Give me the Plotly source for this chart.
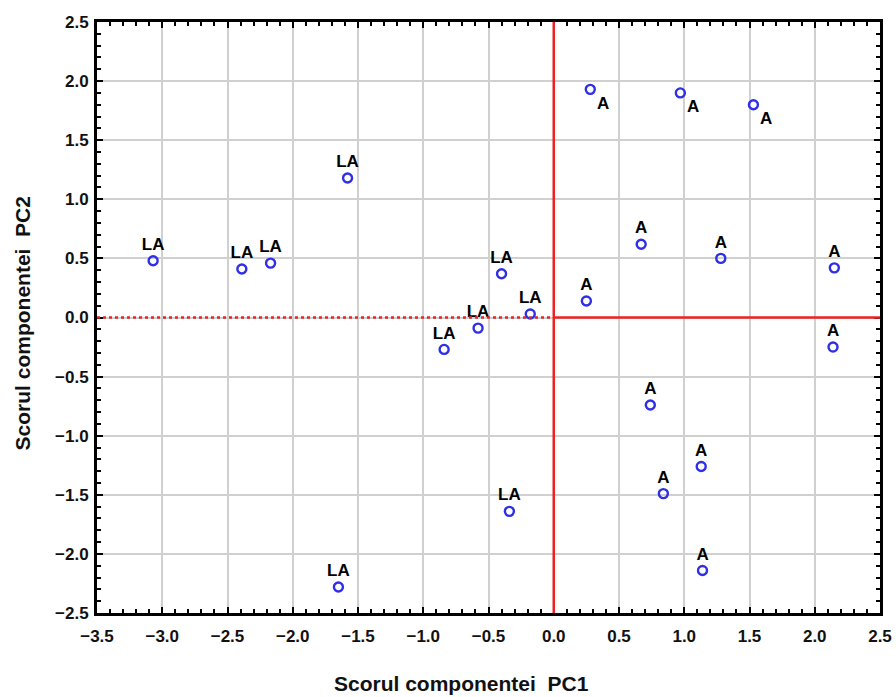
import plotly.graph_objects as go

# Data
la_pc1 = [-3.07, -2.39, -2.17, -1.58, -0.40, -0.18, -0.58, -0.84, -0.34, -1.65]
la_pc2 = [0.48, 0.41, 0.46, 1.18, 0.37, 0.03, -0.09, -0.27, -1.64, -2.28]
la_labels = ["LA"] * len(la_pc1)

a_pc1 = [0.28, 0.97, 1.53, 0.25, 0.67, 1.28, 2.15, 2.14, 0.74, 1.13, 0.84, 1.14]
a_pc2 = [1.93, 1.90, 1.80, 0.14, 0.62, 0.50, 0.42, -0.25, -0.74, -1.26, -1.49, -2.14]
a_labels = ["A"] * len(a_pc1)
a_pos = ["bottom right"] * 3 + ["top center"] * 9

x_range = [-3.5, 2.5]
y_range = [-2.5, 2.5]
major_step = 0.5
minor_step = 0.1

FONT = "Liberation Sans, Arial, sans-serif"
marker = dict(symbol="circle-open", size=9, color="#2f2fe8", line=dict(width=2.4, color="#2f2fe8"))
textfont = dict(family=FONT, size=17, color="black", weight="bold")

fig = go.Figure()
fig.add_trace(go.Scatter(x=la_pc1, y=la_pc2, mode="markers+text", text=la_labels,
                         textposition="top center", marker=marker, textfont=textfont,
                         showlegend=False))
fig.add_trace(go.Scatter(x=a_pc1, y=a_pc2, mode="markers+text", text=a_labels,
                         textposition=a_pos, marker=marker, textfont=textfont,
                         showlegend=False))

red = "#ee2222"
fig.add_shape(type="line", xref="x", yref="y", x0=0, x1=0, y0=y_range[0], y1=y_range[1],
              line=dict(color=red, width=2.5), layer="above")
fig.add_shape(type="line", xref="x", yref="y", x0=x_range[0], x1=0, y0=0, y1=0,
              line=dict(color=red, width=2.5, dash="dot"), layer="above")
fig.add_shape(type="line", xref="x", yref="y", x0=0, x1=x_range[1], y0=0, y1=0,
              line=dict(color=red, width=2.5), layer="above")

tickfont = dict(family=FONT, size=17, color="#111111", weight="bold")
axis_common = dict(
    showgrid=True, gridcolor="#d0d0d0", gridwidth=1.5,
    zeroline=False, showline=True, linecolor="black", linewidth=3, mirror="allticks",
    ticks="inside", ticklen=6, tickwidth=2, tickcolor="black",
    tickmode="linear", dtick=major_step, tickformat=".1f",
    minor=dict(ticks="inside", ticklen=4, tickwidth=2, tickcolor="black",
               tickmode="linear", dtick=minor_step, showgrid=False),
    tickfont=tickfont, automargin=False,
)

fig.update_xaxes(range=x_range, tick0=x_range[0], ticklabelstandoff=6, **axis_common)
fig.update_yaxes(range=y_range, tick0=y_range[0], ticklabelstandoff=2, **axis_common)

title_font = dict(family=FONT, size=21, color="#111111", weight="bold")
fig.add_annotation(text="Scorul componentei  PC1", xref="paper", yref="paper",
                   x=0.466, y=0, yshift=-70, xanchor="center", yanchor="middle",
                   showarrow=False, font=title_font)
fig.add_annotation(text="Scorul componentei  PC2", xref="paper", yref="paper",
                   x=0, y=0.49, xshift=-75, xanchor="center", yanchor="middle",
                   textangle=-90, showarrow=False, font=title_font)

fig.update_layout(
    width=896, height=697,
    margin=dict(l=97, r=16, t=22, b=84),
    plot_bgcolor="white", paper_bgcolor="white",
)

# remove the page's default 8px body margin so the figure fills the window exactly
fig.write_html("out.html", config={"displayModeBar": False},
               post_script="document.body.style.margin='0px';document.body.style.overflow='hidden';")
